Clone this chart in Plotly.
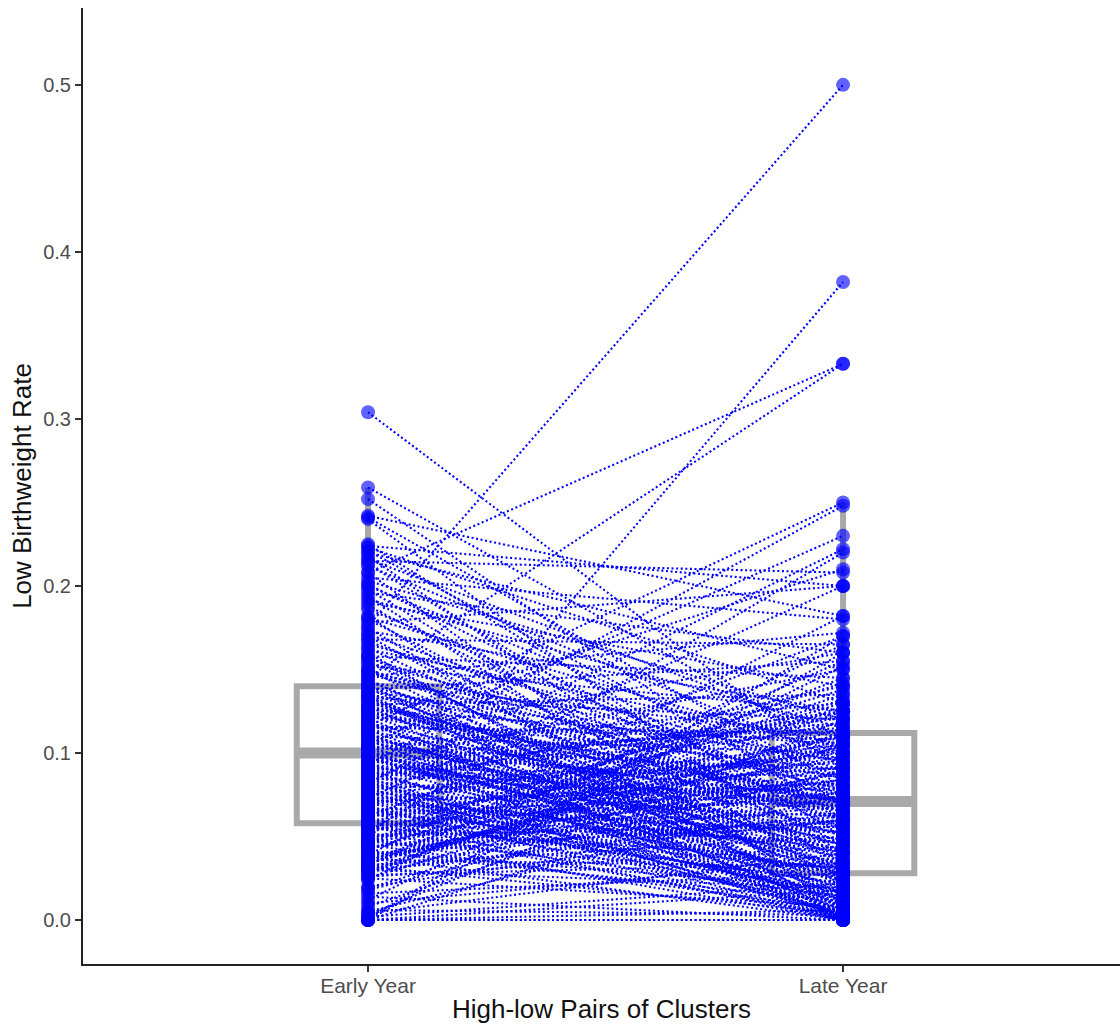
import plotly.graph_objects as go

groups = ["Early Year", "Late Year"]
box_q1 = [0.058, 0.028]
box_median = [0.100, 0.071]
box_q3 = [0.140, 0.112]
box_low = [0.0, 0.0]
box_high = [0.259, 0.25]

early = [
 0.304,0.259,0.252,0.242,0.241,0.240,0.225,0.224,0.223,0.221,
 0.220,0.218,0.216,0.215,0.213,0.212,0.208,0.208,0.205,0.203,
 0.201,0.200,0.198,0.196,0.194,0.192,0.190,0.188,0.186,0.182,
 0.181,0.180,0.178,0.176,0.175,0.173,0.171,0.170,0.168,0.167,
 0.165,0.163,0.162,0.160,0.158,0.157,0.155,0.154,0.152,0.150,
 0.149,0.148,0.146,0.145,0.143,0.142,0.141,0.140,0.139,0.138,
 0.136,0.135,0.134,0.133,0.131,0.130,0.129,0.128,0.126,0.125,
 0.124,0.123,0.122,0.120,0.119,0.118,0.117,0.116,0.115,0.114,
 0.113,0.112,0.111,0.110,0.108,0.107,0.106,0.105,0.104,0.103,
 0.102,0.101,0.100,0.100,0.099,0.098,0.097,0.096,0.095,0.094,
 0.093,0.092,0.091,0.090,0.089,0.088,0.087,0.086,0.085,0.084,
 0.083,0.082,0.081,0.080,0.079,0.078,0.077,0.076,0.075,0.074,
 0.073,0.072,0.071,0.070,0.069,0.068,0.067,0.066,0.065,0.064,
 0.063,0.062,0.061,0.060,0.059,0.058,0.057,0.056,0.055,0.054,
 0.053,0.052,0.051,0.050,0.049,0.048,0.047,0.046,0.045,0.044,
 0.043,0.042,0.041,0.040,0.039,0.038,0.037,0.036,0.035,0.034,
 0.033,0.032,0.031,0.030,0.029,0.028,0.027,0.026,0.025,0.024,
 0.020,0.019,0.018,0.016,0.014,0.012,0.010,0.008,0.006,0.005,
 0.004,0.003,0.002,0.001,0.000,0.000,0.000,0.000,0.000,0.000,
 0.150,0.144,0.137,0.132,0.127,0.121,0.116,0.109,0.104,0.098,
 0.094,0.088,0.083,0.078,0.074,0.069,0.064,0.060,0.055,0.050,
 0.046,0.041,0.037,0.033,0.029,0.025,0.158,0.147,0.133,0.125,
 0.112,0.103,0.096,0.089,0.081,0.072,0.066,0.058,0.052,0.044,
 0.038,0.031,0.140,0.128,0.118,0.107,0.099,0.091,0.085,0.076,
 0.070,0.062,0.056,0.048,0.043,0.035,0.030,0.135,0.122,0.110,
 0.101,0.093,0.086,0.079,0.071,0.063,0.054,0.047,0.039,0.034,
]
late = [
 0.090,0.100,0.060,0.182,0.080,0.030,0.050,0.200,0.130,0.070,
 0.150,0.020,0.110,0.208,0.040,0.095,0.333,0.005,0.180,0.120,
 0.060,0.085,0.025,0.160,0.010,0.115,0.140,0.045,0.070,0.000,
 0.100,0.035,0.200,0.500,0.003,0.125,0.075,0.015,0.165,0.055,
 0.090,0.030,0.105,0.000,0.145,0.065,0.020,0.080,0.125,0.007,
 0.050,0.095,0.172,0.333,0.035,0.110,0.002,0.070,0.013,0.155,
 0.040,0.085,0.000,0.120,0.025,0.060,0.135,0.004,0.105,0.045,
 0.075,0.018,0.090,0.210,0.000,0.055,0.030,0.250,0.112,0.008,
 0.065,0.160,0.028,0.100,0.001,0.042,0.072,0.230,0.016,0.130,
 0.052,0.000,0.080,0.023,0.115,0.006,0.068,0.033,0.150,0.010,
 0.248,0.048,0.086,0.000,0.072,0.020,0.125,0.038,0.003,0.094,
 0.058,0.222,0.012,0.078,0.140,0.027,0.000,0.062,0.105,0.005,
 0.200,0.043,0.082,0.017,0.118,0.000,0.053,0.030,0.092,0.009,
 0.071,0.170,0.022,0.000,0.110,0.047,0.064,0.002,0.036,0.084,
 0.220,0.014,0.056,0.076,0.000,0.382,0.026,0.098,0.006,0.068,
 0.110,0.135,0.011,0.060,0.182,0.000,0.088,0.032,0.145,0.112,
 0.050,0.004,0.074,0.019,0.128,0.125,0.034,0.044,0.008,0.165,
 0.060,0.105,0.090,0.028,0.000,0.152,0.036,0.105,0.003,0.075,
 0.040,0.120,0.022,0.170,0.000,0.160,0.006,0.090,0.000,0.018,
 0.060,0.015,0.095,0.030,0.072,0.001,0.108,0.045,0.072,0.012,
 0.118,0.066,0.004,0.098,0.041,0.125,0.076,0.022,0.102,0.058,
 0.130,0.019,0.082,0.155,0.064,0.112,0.010,0.078,0.038,0.071,
 0.002,0.090,0.048,0.122,0.028,0.100,0.016,0.074,0.138,0.056,
 0.092,0.115,0.026,0.071,0.006,0.087,0.040,0.068,0.121,0.014,
 0.052,0.103,0.031,0.142,0.084,0.108,0.060,0.009,0.070,0.033,
 0.024,0.069,0.114,0.003,0.079,0.046,0.096,0.132,0.062,0.106,
]

xe, xl = 0, 1
line_x, line_y = [], []
for a, b in zip(early, late):
    line_x += [xe, xl, None]
    line_y += [a, b, None]

GREY = "#a9a9a9"
BLUE = "#0000ff"
fig = go.Figure()
for i, g in enumerate(groups):
    fig.add_trace(go.Box(
        x=[i], q1=[box_q1[i]], median=[box_median[i]], q3=[box_q3[i]],
        lowerfence=[box_low[i]], upperfence=[box_high[i]],
        width=0.3, whiskerwidth=0, fillcolor="rgba(255,255,255,0)",
        line=dict(color=GREY, width=6), boxpoints=False, showlegend=False))
    fig.add_trace(go.Scatter(
        x=[i - 0.15, i + 0.15], y=[box_median[i], box_median[i]], mode="lines",
        line=dict(color=GREY, width=11), showlegend=False))
fig.add_trace(go.Scatter(
    x=line_x, y=line_y, mode="lines",
    line=dict(color=BLUE, width=2.1, dash="2px,2.6px"), opacity=1, showlegend=False))
fig.add_trace(go.Scatter(
    x=[xe] * len(early) + [xl] * len(late), y=early + late, mode="markers",
    marker=dict(color=BLUE, size=14, opacity=0.62, line=dict(width=0)), showlegend=False))

x_tick_font = dict(family="Liberation Sans, Arial, sans-serif", size=21, color="#4d4d4d")
y_tick_font = dict(family="Liberation Sans, Arial, sans-serif", size=20, color="#4d4d4d")
title_font = dict(family="Liberation Sans, Arial, sans-serif", size=26, color="#111111")
fig.update_layout(
    width=1120, height=1026, margin=dict(l=83, r=0, t=8, b=62),
    plot_bgcolor="white", paper_bgcolor="white", boxmode="overlay",
    xaxis=dict(range=[-0.6, 1.583], tickmode="array", tickvals=[0, 1], ticktext=groups,
               showgrid=False, zeroline=False, showline=True, linecolor="#222222", linewidth=2,
               ticks="outside", ticklen=6, tickwidth=1.5, tickcolor="#333333", tickfont=x_tick_font,
               ticklabelstandoff=-4,
               title=dict(text="High-low Pairs of Clusters", font=title_font, standoff=4)),
    yaxis=dict(range=[-0.0263, 0.546], tickmode="array", tickvals=[0, 0.1, 0.2, 0.3, 0.4, 0.5],
               ticktext=["0.0", "0.1", "0.2", "0.3", "0.4", "0.5"],
               showgrid=False, zeroline=False, showline=True, linecolor="#222222", linewidth=2,
               ticks="outside", ticklen=6, tickwidth=1.5, tickcolor="#333333", tickfont=y_tick_font,
               title=dict(text="Low Birthweight Rate", font=title_font, standoff=4)),
)
fig.write_html("out.html", config={"displayModeBar": False},
               post_script="document.body.style.margin='0';")
